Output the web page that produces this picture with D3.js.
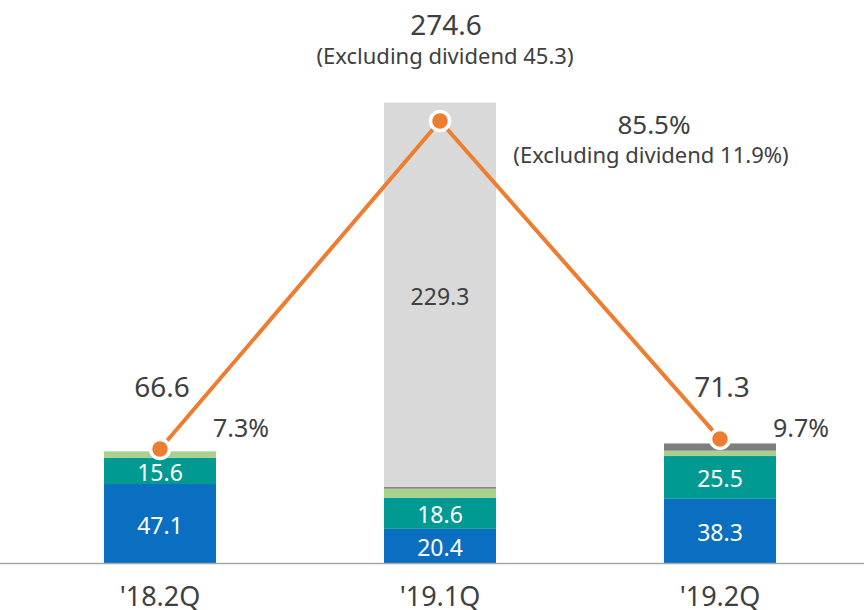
<!DOCTYPE html>
<html>
<head>
    <title>Quarterly chart</title>
    <script src="https://d3js.org/d3.v7.min.js"></script>
    <style>
        body { margin: 0; background: #fff; }
        text { font-family: "Noto Sans", sans-serif; }
    </style>
</head>
<body>
    <svg id="chart" width="864" height="610"></svg>
    <script>
        // data
        var quarters = ["'18.2Q", "'19.1Q", "'19.2Q"];
        var blueVals = [47.1, 20.4, 38.3];
        var tealVals = [15.6, 18.6, 25.5];
        var greenVals = [3.9, 5.3, 3.2];
        var darkVals = [0, 1.0, 4.3];
        var dividendVals = [0, 229.3, 0];
        var totals = ["66.6", "274.6", "71.3"];
        var ratioVals = [7.3, 85.5, 9.7];
        var ratioLabels = ["7.3%", "85.5%", "9.7%"];
        var exclNotes = ["", "(Excluding dividend 45.3)", ""];
        var exclRatioNote = "(Excluding dividend 11.9%)";

        var series = [
            { key: "blue", vals: blueVals, color: "#0A6FC1", label: true },
            { key: "teal", vals: tealVals, color: "#009A93", label: true },
            { key: "green", vals: greenVals, color: "#A9D18E", label: false },
            { key: "dark", vals: darkVals, color: "#7F7F7F", label: false },
            { key: "div", vals: dividendVals, color: "#D9D9D9", label: true }
        ];

        var svg = d3.select("#chart");
        var baseY = 563;

        var x = d3.scaleBand()
            .domain(quarters)
            .range([20, 860])
            .paddingInner(0.6)
            .paddingOuter(0.3);

        var y = d3.scaleLinear()
            .domain([0, 300])
            .range([baseY, 60]);

        // secondary scale for the ratio line
        var y2 = d3.scaleLinear()
            .domain([0, 100])
            .range([479.6, 60.2]);

        // build stacked rows
        var rows = quarters.map(function (q, i) {
            var r = { q: q };
            series.forEach(function (s) { r[s.key] = s.vals[i]; });
            return r;
        });
        var stack = d3.stack().keys(series.map(function (s) { return s.key; }));
        var stacked = stack(rows);

        var bars = svg.append("g");
        stacked.forEach(function (layer, li) {
            var s = series[li];
            bars.selectAll(null)
                .data(layer)
                .enter()
                .append("rect")
                .attr("x", function (d) { return x(d.data.q); })
                .attr("y", function (d) { return y(d[1]); })
                .attr("width", x.bandwidth())
                .attr("height", function (d) { return y(d[0]) - y(d[1]); })
                .style("fill", s.color);

            if (s.label) {
                bars.selectAll(null)
                    .data(layer.filter(function (d) { return d[1] - d[0] > 0; }))
                    .enter()
                    .append("text")
                    .attr("x", function (d) { return x(d.data.q) + x.bandwidth() / 2; })
                    .attr("y", function (d) { return (y(d[0]) + y(d[1])) / 2 + 1; })
                    .attr("text-anchor", "middle")
                    .attr("dominant-baseline", "central")
                    .style("font-size", "23px")
                    .style("fill", s.key == "div" ? "#404040" : "#ffffff")
                    .text(function (d) { return d3.format(".1f")(d[1] - d[0]); });
            }
        });

        // baseline
        svg.append("line")
            .attr("x1", 0).attr("x2", 864)
            .attr("y1", baseY + 0.5).attr("y2", baseY + 0.5)
            .style("stroke", "#A6A6A6")
            .style("stroke-width", 1.5);

        // category labels
        svg.selectAll(".cat")
            .data(quarters)
            .enter()
            .append("text")
            .attr("x", function (d) { return x(d) + x.bandwidth() / 2; })
            .attr("y", 606)
            .attr("text-anchor", "middle")
            .style("font-size", "27px")
            .style("fill", "#404040")
            .text(function (d) { return d; });

        // ratio line
        var pts = quarters.map(function (q, i) {
            return [x(q) + x.bandwidth() / 2, y2(ratioVals[i])];
        });
        svg.append("path")
            .attr("d", d3.line()(pts))
            .style("fill", "none")
            .style("stroke", "#ED7D31")
            .style("stroke-width", 4);
        svg.selectAll(".pt")
            .data(pts)
            .enter()
            .append("circle")
            .attr("cx", function (d) { return d[0]; })
            .attr("cy", function (d) { return d[1]; })
            .attr("r", 9.5)
            .style("fill", "#ED7D31")
            .style("stroke", "#ffffff")
            .style("stroke-width", 3.5);

        // total labels for the small bars and the big one
        quarters.forEach(function (q, i) {
            var cx = x(q) + x.bandwidth() / 2;
            if (dividendVals[i] > 0) {
                svg.append("text")
                    .attr("x", cx + 6).attr("y", 35)
                    .attr("text-anchor", "middle")
                    .style("font-size", "28px").style("fill", "#404040")
                    .text(totals[i]);
                svg.append("text")
                    .attr("x", cx + 5).attr("y", 64)
                    .attr("text-anchor", "middle")
                    .style("font-size", "22px").style("fill", "#404040")
                    .text(exclNotes[i]);
                svg.append("text")
                    .attr("x", cx + 214).attr("y", 134)
                    .attr("text-anchor", "middle")
                    .style("font-size", "26px").style("fill", "#404040")
                    .text(ratioLabels[i]);
                svg.append("text")
                    .attr("x", cx + 211).attr("y", 163)
                    .attr("text-anchor", "middle")
                    .style("font-size", "22px").style("fill", "#404040")
                    .text(exclRatioNote);
            } else {
                svg.append("text")
                    .attr("x", cx + 2).attr("y", 397)
                    .attr("text-anchor", "middle")
                    .style("font-size", "28px").style("fill", "#404040")
                    .text(totals[i]);
                svg.append("text")
                    .attr("x", x(q) + x.bandwidth() - 3).attr("y", 437)
                    .attr("text-anchor", "start")
                    .style("font-size", "25px").style("fill", "#404040")
                    .text(ratioLabels[i]);
            }
        });
    </script>
</body>
</html>
